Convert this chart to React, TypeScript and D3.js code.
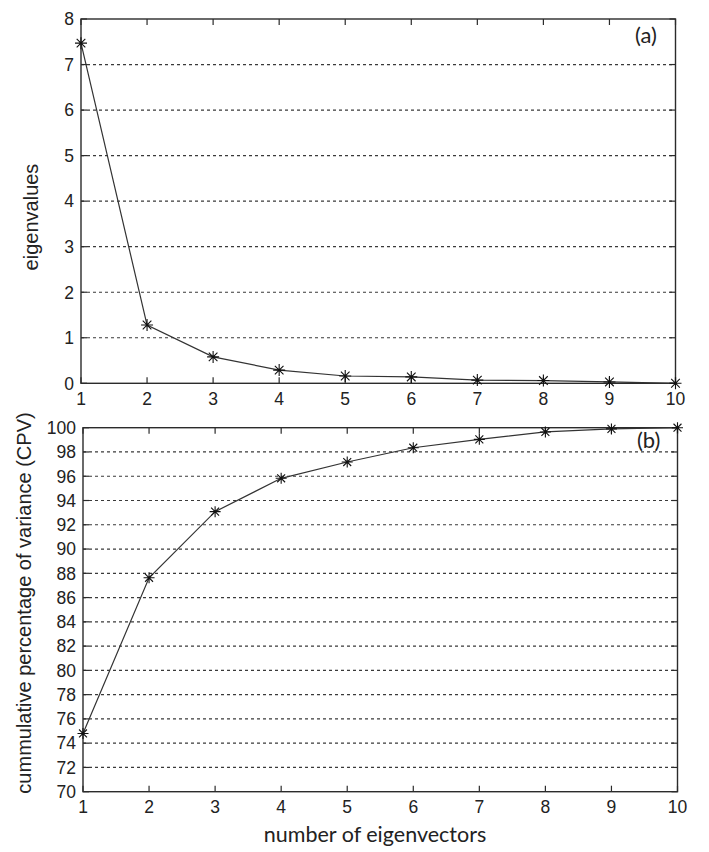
import React from "react";
import * as d3 from "d3";

const components = [1, 2, 3, 4, 5, 6, 7, 8, 9, 10];
const eigenvalues = [7.47, 1.28, 0.58, 0.29, 0.16, 0.14, 0.07, 0.06, 0.03, 0.0];
const cpv = [74.8, 87.63, 93.08, 95.83, 97.17, 98.35, 99.04, 99.65, 99.9, 100.0];
const topYTicks = [0, 1, 2, 3, 4, 5, 6, 7, 8];
const bottomYTicks = [70, 72, 74, 76, 78, 80, 82, 84, 86, 88, 90, 92, 94, 96, 98, 100];

const AX = "#2b2b2b";
const TICKFONT = "'Liberation Sans', Arial, sans-serif";
const LABELFONT = "Lato, 'Open Sans', sans-serif";

function star(r: number) {
  const d = r * 0.72;
  return `M${-r},0L${r},0M0,${-r}L0,${r}M${-d},${-d}L${d},${d}M${-d},${d}L${d},${-d}`;
}

type PanelProps = {
  left: number; right: number; top: number; bottom: number;
  yDomain: [number, number]; yTicks: number[]; values: number[];
  tag: string; tagX: number; tagY: number; starR: number; xLabelBase: number;
};

function Panel(p: PanelProps) {
  const x = d3.scaleLinear().domain([1, 10]).range([p.left, p.right]);
  const y = d3.scaleLinear().domain(p.yDomain).range([p.bottom, p.top]);
  const line = d3.line<number>().x((_, i) => x(components[i])).y((v) => y(v));
  const grid = p.yTicks.filter((t) => t !== p.yDomain[0] && t !== p.yDomain[1]);
  const tl = 6;
  return (
    <g>
      {grid.map((t) => (
        <line key={"g" + t} x1={p.left} x2={p.right} y1={y(t)} y2={y(t)}
          stroke="#3a3a3a" strokeWidth={1.2} strokeDasharray="3,3" />
      ))}
      {components.map((c) => (
        <g key={"xt" + c}>
          <line x1={x(c)} x2={x(c)} y1={p.bottom} y2={p.bottom - tl} stroke={AX} strokeWidth={1.2} />
          <line x1={x(c)} x2={x(c)} y1={p.top} y2={p.top + tl} stroke={AX} strokeWidth={1.2} />
          <text x={x(c)} y={p.xLabelBase} textAnchor="middle" fontFamily={TICKFONT} fontSize={17.5} fill="#222">{c}</text>
        </g>
      ))}
      {p.yTicks.map((t) => (
        <g key={"yt" + t}>
          <line x1={p.left} x2={p.left + tl} y1={y(t)} y2={y(t)} stroke={AX} strokeWidth={1.2} />
          <line x1={p.right} x2={p.right - tl} y1={y(t)} y2={y(t)} stroke={AX} strokeWidth={1.2} />
          <text x={p.left - 7} y={y(t)} dy="0.36em" textAnchor="end" fontFamily={TICKFONT} fontSize={17.5} fill="#222">{t}</text>
        </g>
      ))}
      <rect x={p.left} y={p.top} width={p.right - p.left} height={p.bottom - p.top}
        fill="none" stroke={AX} strokeWidth={1.4} />
      <path d={line(p.values) || ""} fill="none" stroke="#333" strokeWidth={1.2} />
      {p.values.map((v, i) => (
        <path key={"m" + i} d={star(p.starR)} transform={`translate(${x(components[i])},${y(v)})`}
          stroke="#111" strokeWidth={1.1} fill="none" />
      ))}
      <text x={p.tagX} y={p.tagY} fontFamily={LABELFONT} fontSize={22} fill="#222">{p.tag}</text>
    </g>
  );
}

export default function App() {
  return (
    <svg width={709} height={852} style={{ position: "absolute", left: 0, top: 0, background: "#fff" }}>
      <rect x={0} y={0} width={709} height={852} fill="#fff" />
      <Panel left={81} right={675.5} top={19} bottom={383.3} yDomain={[0, 8]} yTicks={topYTicks}
        values={eigenvalues} tag="(a)" tagX={635} tagY={43} starR={6} xLabelBase={405} />
      <Panel left={83} right={677.5} top={427.7} bottom={791.7} yDomain={[70, 100]} yTicks={bottomYTicks}
        values={cpv} tag="(b)" tagX={637} tagY={448} starR={5.5} xLabelBase={813} />
      <text transform="translate(38,217) rotate(-90)" textAnchor="middle" fontFamily={TICKFONT}
        fontSize={20} fill="#222">eigenvalues</text>
      <text transform="translate(31,603) rotate(-90)" textAnchor="middle" fontFamily={TICKFONT}
        fontSize={20} fill="#222">cummulative percentage of variance (CPV)</text>
      <text x={375} y={842} textAnchor="middle" fontFamily={LABELFONT} fontSize={21.5} fill="#222">number of eigenvectors</text>
    </svg>
  );
}
